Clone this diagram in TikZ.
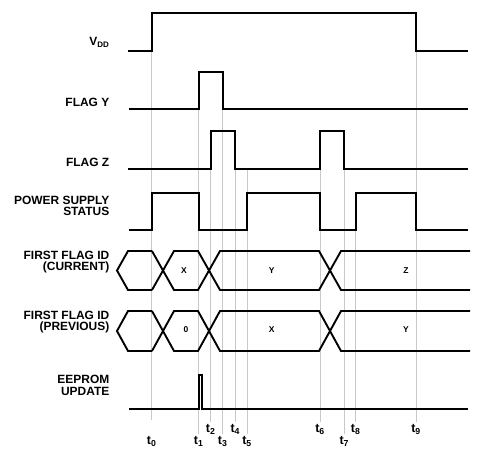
\documentclass[tikz,border=0pt]{standalone}
\usepackage{fontspec}
\setmainfont{Liberation Sans}
\usepackage{tikz}
\usetikzlibrary{positioning,calc}
\colorlet{guidegray}{gray!42}
\tikzstyle{signal} = [line width=1.9pt, line join=miter]
\tikzstyle{guide} = [guidegray, line width=0.7pt]
\tikzstyle{sig label} = [anchor=base east, align=right, inner sep=0pt, font=\fontsize{12}{11.2}\selectfont\bfseries]
\tikzstyle{bus value} = [inner sep=0pt, font=\fontsize{8.5}{9}\selectfont\bfseries]
\tikzstyle{time label} = [anchor=north, inner sep=0pt, font=\fontsize{12.5}{12}\selectfont\bfseries]

\begin{document}
\begin{tikzpicture}[x=1bp, y=-1bp]
			\useasboundingbox (0,0) rectangle (483,449);

			% TIME MARKERS
			\foreach \i/\x/\ya/\yb/\yl in {0/151.7/50.7/420/436.5, 1/198.7/109/434/436.5, 2/210.7/169/422/424.5, 3/222.7/109/434/436.5, 4/235.3/169/422/424.5, 5/247/169/434/436.5, 6/320/169/422/424.5, 7/344.3/169/434/436.5, 8/355.7/192.7/422/424.5, 9/416/50.7/422/424.5}{
				\draw[guide] (\x,\ya) -- (\x,\yb);
				\node[time label] (t\i) at (\x,\yl) {t\textsubscript{\i}};
			}

			% SIGNAL NAMES
			\node[sig label] (vdd) at (109.5,46) {V\textsubscript{DD}};
			\node[sig label] (flagy) at (109.5,106.7) {FLAG Y};
			\node[sig label] (flagz) at (109.5,166.8) {FLAG Z};
			\node[sig label] (psstatus) at (109.5,216) {POWER SUPPLY\\STATUS};
			\node[sig label] (curid) at (109.5,270.8) {FIRST FLAG ID\\(CURRENT)};
			\node[sig label] (previd) at (109.5,330.8) {FIRST FLAG ID\\(PREVIOUS)};
			\node[sig label] (eeprom) at (109.5,395) {EEPROM\\UPDATE};

			% WAVEFORMS
			\draw[signal] (128,50.7) -- (151.7,50.7) -- (151.7,12.7) -- (416,12.7) -- (416,50.7) -- (468,50.7);
			\draw[signal] (129,109) -- (198.7,109) -- (198.7,72.3) -- (222.7,72.3) -- (222.7,109) -- (468,109);
			\draw[signal] (128,169) -- (210.7,169) -- (210.7,131) -- (235.3,131) -- (235.3,169) -- (320,169) -- (320,131) -- (344.3,131) -- (344.3,169) -- (468,169);
			\draw[signal] (129,230) -- (151.7,230) -- (151.7,192.7) -- (198.7,192.7) -- (198.7,230) -- (247,230) -- (247,192.7) -- (320,192.7) -- (320,230) -- (355.7,230) -- (355.7,192.7) -- (416,192.7) -- (416,230) -- (468,230);
			\draw[signal] (129,409) -- (198.7,409) -- (198.7,374.7) -- (202,374.7) -- (202,409) -- (468,409);

			% BUSES
			\foreach \top/\bot in {251/290, 311/351}{
				\draw[signal] (152,\top) -- (128,\top) -- (117,{(\top+\bot)/2}) -- (128,\bot) -- (152,\bot);
				\draw[signal] (152,\top) -- (174,\bot) -- (198,\bot) -- (220,\top) -- (319,\top) -- (341,\bot) -- (470,\bot);
				\draw[signal] (152,\bot) -- (174,\top) -- (198,\top) -- (220,\bot) -- (319,\bot) -- (341,\top) -- (470,\top);
			}
			\node[bus value] (curx) at (184,270.5) {X};
			\node[bus value] (cury) at (271.7,270.5) {Y};
			\node[bus value] (curz) at (406,270.5) {Z};
			\node[bus value] (prevzero) at (186,330) {0};
			\node[bus value] (prevx) at (271.7,330) {X};
			\node[bus value] (prevy) at (406,330) {Y};

\end{tikzpicture}
\end{document}
